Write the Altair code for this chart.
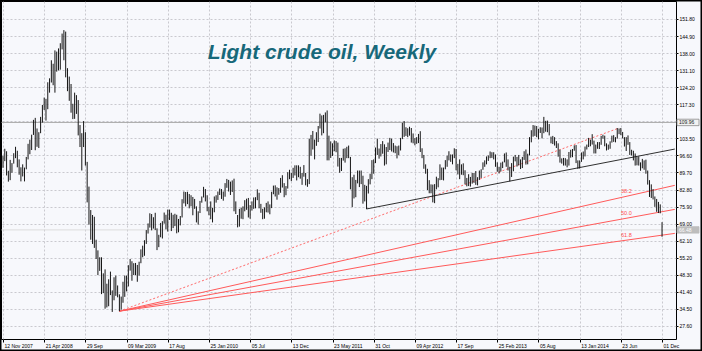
import altair as alt
import pandas as pd

# ---------------- data ----------------
first_week = "2007-11-12"

high_2007 = [96.5, 99.3, 98.3, 90.4, 94.8, 93.5, 97.5, 100.1]
low_2007 = [91.6, 94.3, 88.5, 86.0, 86.6, 89.6, 93.3, 95.5]

high_2008 = [98.5, 95.0, 91.8, 93.0, 91.7, 96.0, 101.3, 103.0, 105.0, 111.0, 111.8, 107.5, 106.0,
             112.2, 117.0, 120.0, 119.5, 126.2, 127.8, 135.1, 133.7, 139.1, 138.6, 139.9, 142.0, 145.9,
             147.3, 146.7, 131.9, 128.5, 125.5, 117.5, 122.0, 121.0, 119.0, 108.9, 105.6, 110.5, 106.0,
             94.0, 84.0, 74.5, 72.5, 71.8, 62.5, 58.2, 55.4, 55.4, 48.9, 50.5, 44.7, 46.5]
low_2008 = [91.8, 88.8, 86.1, 88.1, 86.1, 91.0, 95.0, 97.1, 98.8, 104.9, 98.7, 100.1, 99.6,
            105.6, 109.9, 115.0, 110.7, 115.3, 122.0, 126.1, 125.0, 122.0, 130.5, 131.0, 131.3, 139.5,
            135.1, 128.2, 122.6, 118.7, 113.9, 111.3, 111.4, 113.4, 104.7, 100.0, 90.5, 100.0, 92.5,
            77.6, 68.6, 62.5, 60.8, 59.2, 54.7, 48.2, 49.9, 40.5, 40.9, 34.6, 35.1, 35.6]

high_2009 = [49.6, 42.0, 47.3, 48.0, 44.0, 40.4, 39.5, 45.5, 48.0, 48.0, 52.2, 54.7, 53.8,
             53.0, 53.1, 52.3, 53.6, 58.6, 60.1, 62.3, 66.4, 69.1, 73.2, 72.9, 71.6, 73.4,
             67.1, 64.5, 69.3, 70.0, 73.5, 72.6, 74.7, 74.7, 73.4, 72.6, 73.0, 72.6, 70.9,
             72.1, 78.9, 82.0, 81.8, 81.9, 81.0, 80.5, 79.8, 79.0, 76.0, 74.0, 78.2, 80.0]
low_2009 = [40.1, 33.3, 38.0, 39.8, 39.2, 33.6, 34.2, 37.0, 39.4, 41.6, 43.6, 50.0, 45.9,
            48.2, 48.2, 45.5, 48.0, 53.0, 55.4, 56.0, 60.8, 65.0, 67.4, 66.3, 67.0, 66.4,
            58.3, 59.5, 63.5, 63.0, 69.0, 66.7, 65.8, 70.5, 66.0, 67.2, 68.0, 65.1, 65.5,
            68.3, 71.5, 77.2, 76.0, 76.9, 75.2, 76.0, 72.4, 75.0, 69.5, 68.6, 73.3, 77.5]

high_2010 = [83.9, 83.0, 80.5, 75.8, 78.0, 75.4, 80.0, 80.5, 82.0, 83.2, 83.0, 82.0, 85.4,
             87.1, 86.7, 86.0, 86.5, 87.2, 78.0, 72.5, 75.0, 75.5, 76.0, 78.5, 79.1, 79.4,
             76.5, 78.0, 79.6, 79.7, 82.9, 81.5, 77.0, 75.0, 75.6, 77.4, 78.0, 76.8, 81.9,
             84.4, 84.5, 83.7, 83.4, 87.5, 88.6, 85.4, 84.2, 89.8, 90.8, 89.5, 91.6, 92.6]
low_2010 = [79.6, 78.0, 74.0, 72.4, 70.8, 69.5, 73.6, 77.5, 78.6, 80.6, 79.0, 78.3, 79.9,
            83.5, 82.0, 80.6, 81.8, 74.0, 72.9, 67.5, 67.8, 71.0, 70.8, 74.0, 74.6, 71.5,
            71.0, 74.3, 75.0, 75.2, 78.5, 75.2, 73.4, 70.8, 71.0, 73.6, 73.5, 72.8, 75.3,
            80.9, 80.0, 78.7, 80.7, 81.5, 83.6, 79.7, 80.5, 83.2, 87.0, 86.2, 87.5, 88.5]

high_2011 = [92.6, 92.6, 92.0, 89.5, 92.7, 89.5, 87.0, 103.4, 104.9, 106.5, 103.0, 106.0, 108.5,
             113.5, 112.8, 113.0, 114.0, 114.8, 104.6, 102.3, 101.5, 102.7, 102.4, 101.8, 95.6, 95.6,
             99.3, 99.5, 100.1, 100.6, 96.0, 87.8, 88.8, 86.7, 90.5, 90.5, 90.5, 88.4, 84.7,
             84.3, 87.0, 89.2, 94.7, 95.0, 99.8, 103.4, 99.4, 101.2, 102.4, 101.1, 100.0, 101.8]
low_2011 = [86.5, 87.8, 87.2, 84.7, 88.0, 84.5, 83.9, 85.0, 96.5, 99.0, 95.0, 100.5, 102.0,
            107.5, 104.7, 105.6, 110.0, 94.6, 94.6, 95.6, 96.4, 98.3, 97.9, 92.1, 89.6, 90.3,
            94.5, 93.7, 95.5, 95.5, 82.9, 75.7, 79.2, 79.7, 85.3, 83.8, 85.0, 77.1, 78.0,
            74.9, 81.2, 84.9, 87.0, 89.2, 93.5, 96.8, 95.3, 96.2, 97.3, 92.5, 93.0, 98.0]

high_2012 = [103.7, 103.4, 101.6, 100.6, 100.3, 100.6, 103.7, 109.8, 110.5, 108.0, 107.6, 108.2, 107.7,
             105.5, 103.6, 104.0, 105.3, 106.4, 99.5, 96.8, 93.0, 91.2, 86.6, 84.9, 84.8, 85.0,
             88.0, 87.4, 93.0, 91.7, 91.7, 94.7, 96.5, 98.3, 97.0, 97.0, 99.5, 99.2, 93.2,
             95.0, 93.0, 93.4, 90.6, 87.5, 89.0, 87.9, 89.5, 89.5, 90.3, 87.8, 90.5, 91.0, 93.8]
low_2012 = [98.8, 98.2, 97.8, 97.5, 95.4, 96.7, 98.6, 103.2, 104.1, 104.5, 104.0, 104.6, 101.8,
            101.5, 100.7, 101.3, 101.6, 98.0, 95.5, 91.2, 89.2, 82.6, 81.3, 81.3, 77.6, 77.3,
            82.9, 83.7, 86.6, 86.7, 86.5, 91.0, 92.0, 94.6, 94.0, 93.0, 95.5, 90.6, 88.9,
            87.0, 88.8, 88.6, 84.9, 84.1, 84.2, 84.0, 85.2, 85.5, 84.7, 84.5, 86.7, 87.5, 90.8]

high_2013 = [94.6, 96.2, 96.6, 98.2, 97.9, 97.9, 97.0, 93.8, 92.0, 93.7, 94.1, 97.4, 97.8,
             95.0, 92.0, 93.5, 96.1, 96.8, 96.0, 96.8, 95.0, 96.0, 98.3, 99.0, 97.3, 104.0,
             106.8, 108.9, 108.7, 108.5, 107.4, 108.0, 107.9, 112.2, 110.6, 110.7, 109.3, 104.2, 104.5,
             104.0, 102.4, 101.5, 98.9, 95.4, 95.6, 95.5, 95.0, 98.0, 98.9, 99.2, 100.7, 100.8]
low_2013 = [92.0, 93.0, 94.4, 95.5, 95.6, 95.0, 92.0, 90.0, 89.3, 90.1, 91.5, 93.8, 92.0,
            90.5, 86.1, 87.9, 90.2, 94.2, 92.1, 92.6, 91.1, 91.5, 94.8, 92.9, 93.0, 96.6,
            101.9, 104.2, 104.5, 104.0, 103.1, 105.7, 103.5, 105.6, 106.2, 106.0, 104.7, 101.5, 101.2,
            100.6, 99.6, 96.1, 93.7, 93.3, 92.5, 92.5, 91.8, 92.5, 95.7, 95.9, 98.5, 93.5]

high_2014 = [94.6, 94.6, 97.8, 98.2, 100.2, 101.0, 103.7, 103.0, 105.2, 102.6, 101.0, 102.0, 102.0,
             104.5, 105.0, 104.6, 101.5, 101.0, 102.3, 104.6, 104.8, 104.0, 107.7, 107.5, 107.7, 106.1,
             104.0, 104.0, 104.7, 102.0, 98.9, 98.5, 97.4, 96.0, 96.2, 93.8, 95.2, 94.6, 94.9,
             90.5, 86.6, 84.9, 83.0, 80.0, 79.0, 77.8, 76.8, 69.6]
low_2014 = [91.2, 91.3, 94.0, 95.0, 96.2, 99.0, 100.0, 100.3, 101.0, 97.4, 97.4, 99.3, 99.2,
            100.9, 103.4, 100.3, 98.6, 98.9, 99.3, 101.8, 102.1, 101.9, 103.4, 105.2, 104.8, 103.5,
            100.2, 98.4, 100.9, 96.8, 96.6, 94.6, 92.5, 92.6, 92.5, 90.4, 91.4, 90.8, 89.2,
            84.8, 79.8, 79.4, 78.8, 75.8, 73.8, 73.3, 73.2, 63.7]

high = high_2007 + high_2008 + high_2009 + high_2010 + high_2011 + high_2012 + high_2013 + high_2014
low = low_2007 + low_2008 + low_2009 + low_2010 + low_2011 + low_2012 + low_2013 + low_2014

last_price = 66.48
hline_price = 109.96

# x-axis tick dates and their labels
tick_dates = ["2007-11-12", "2008-04-21", "2008-09-29", "2009-03-09", "2009-08-17", "2010-01-25",
              "2010-07-05", "2010-12-13", "2011-05-23", "2011-10-31", "2012-04-09", "2012-09-17",
              "2013-02-25", "2013-08-05", "2014-01-13", "2014-06-23", "2014-12-01"]
tick_labels = ["12 Nov 2007", "21 Apr 2008", "29 Sep", "09 Mar 2009", "17 Aug", "25 Jan 2010",
               "05 Jul", "13 Dec", "23 May 2011", "31 Oct", "09 Apr 2012", "17 Sep",
               "25 Feb 2013", "05 Aug", "13 Jan 2014", "23 Jun", "01 Dec"]
y_ticks = [27.60, 34.50, 41.40, 48.30, 55.20, 62.10, 69.00, 75.90, 82.80, 89.70, 96.60,
           103.50, 110.40, 117.30, 124.20, 131.10, 138.00, 144.90, 151.80]

# Fibonacci fan: low point -> high point
fan_origin_date, fan_origin_price = "2009-02-09", 33.6
fan_peak_date, fan_peak_price = "2014-06-16", 107.7
fan_levels = [38.2, 50.0, 61.8]
ray_end_date = "2015-01-20"

# black support trend line anchors
trend_dates = ["2011-10-03", "2012-06-25"]
trend_prices = [74.95, 80.3]

title_text = "Light crude oil, Weekly"

# ---------------- build tables ----------------
assert len(high) == len(low)
weeks = pd.date_range(first_week, periods=len(high), freq="7D")
bars = pd.DataFrame({"week": weeks.strftime("%Y-%m-%d"), "high": high, "low": low})


def days(d):
    return (pd.Timestamp(d) - pd.Timestamp("2000-01-01")).days


def ms(ts):
    return int((ts - pd.Timestamp("1970-01-01")) / pd.Timedelta(milliseconds=1))


fan_rows = []
label_rows = []
for f in fan_levels:
    lvl = fan_peak_price - f / 100.0 * (fan_peak_price - fan_origin_price)
    slope = (lvl - fan_origin_price) / (days(fan_peak_date) - days(fan_origin_date))
    end_p = fan_origin_price + slope * (days(ray_end_date) - days(fan_origin_date))
    fan_rows += [{"week": fan_origin_date, "price": fan_origin_price, "lvl": str(f)},
                 {"week": ray_end_date, "price": end_p, "lvl": str(f)}]
    label_rows.append({"week": fan_peak_date, "price": lvl, "txt": f"{f:.1f}"})
fan_df = pd.DataFrame(fan_rows)
fan_lbl = pd.DataFrame(label_rows)

diag_df = pd.DataFrame({"week": [fan_origin_date, fan_peak_date],
                        "price": [fan_origin_price, fan_peak_price]})

t_slope = (trend_prices[1] - trend_prices[0]) / (days(trend_dates[1]) - days(trend_dates[0]))
t_end = trend_prices[0] + t_slope * (days(ray_end_date) - days(trend_dates[0]))
trend_df = pd.DataFrame({"week": [trend_dates[0], ray_end_date], "price": [trend_prices[0], t_end]})

hl_df = pd.DataFrame({"price": [hline_price, last_price],
                      "lo": [hline_price - 1.3, last_price - 1.3],
                      "hi": [hline_price + 1.3, last_price + 1.3],
                      "txt": [f"{hline_price:.2f}", f"{last_price:.2f}"],
                      "kind": ["line", "bid"]})

# ---------------- scales & axes ----------------
base = pd.Timestamp(first_week)
dom0 = base - pd.Timedelta(days=1.117 * 7)
dom1 = base + pd.Timedelta(days=375.8 * 7)
xscale = alt.Scale(type="utc", domain=[ms(dom0), ms(dom1)])
yscale = alt.Scale(domain=[22.34, 159.08], nice=False, zero=False)

FONT = "Liberation Sans"
label_expr = ("[" + ",".join(f"'{l}'" for l in tick_labels) + "][indexof(["
              + ",".join(f"'{d}'" for d in tick_dates) + "], utcFormat(datum.value, '%Y-%m-%d'))]")

xaxis = alt.Axis(values=[ms(pd.Timestamp(d)) for d in tick_dates], labelExpr=label_expr,
                 tickCount=100,
                 orient="bottom", labelAlign="left", labelBaseline="top", labelPadding=1,
                 labelOffset=1, tickSize=3, tickColor="#000000", domain=False, grid=True,
                 gridColor="#c9c9cf", gridDash=[2, 2], gridWidth=1, labelFontSize=5,
                 labelFont=FONT, labelColor="#000000", labelOverlap=False, labelFlush=False,
                 labelBound=False, title=None)
yaxis = alt.Axis(values=y_ticks, format=".2f", orient="right", labelAlign="left", tickCount=100,
                 labelBaseline="middle", labelPadding=1, tickSize=2, tickColor="#000000",
                 domain=False, grid=True, gridColor="#c9c9cf", gridDash=[2, 2], gridWidth=1,
                 labelFontSize=5, labelFont=FONT, labelColor="#000000", labelOverlap=False,
                 labelFlush=False, labelBound=False, title=None)

# ---------------- layers ----------------
bar_layer = alt.Chart(bars).mark_rule(color="#151515", strokeWidth=1, clip=True).encode(
    x=alt.X("week:T", scale=xscale, axis=xaxis),
    y=alt.Y("low:Q", scale=yscale, axis=yaxis),
    y2="high:Q",
)

hlines = alt.Chart(hl_df).mark_rule(strokeWidth=1, clip=True).encode(
    y=alt.Y("price:Q", scale=yscale),
    color=alt.Color("kind:N", scale=alt.Scale(domain=["line", "bid"], range=["#a8a8a8", "#dcdcdc"]),
                    legend=None),
)

fan_layer = alt.Chart(fan_df).mark_line(color="#ff5a5a", strokeWidth=1, clip=True).encode(
    x=alt.X("week:T", scale=xscale), y=alt.Y("price:Q", scale=yscale), detail="lvl:N")

diag_layer = alt.Chart(diag_df).mark_line(color="#ff6a6a", strokeWidth=1, strokeDash=[2, 2],
                                          clip=True).encode(
    x=alt.X("week:T", scale=xscale), y=alt.Y("price:Q", scale=yscale))

trend_layer = alt.Chart(trend_df).mark_line(color="#303030", strokeWidth=1, clip=True).encode(
    x=alt.X("week:T", scale=xscale), y=alt.Y("price:Q", scale=yscale))

fan_text = alt.Chart(fan_lbl).mark_text(color="#ff4d4d", fontSize=5.5, font=FONT, align="left",
                                        baseline="middle", dx=2, dy=-6.5).encode(
    x=alt.X("week:T", scale=xscale), y=alt.Y("price:Q", scale=yscale), text="txt:N")

box_layer = alt.Chart(hl_df).mark_rect(strokeWidth=0.8).encode(
    x=alt.value(676), x2=alt.value(698),
    y=alt.Y("lo:Q", scale=yscale), y2="hi:Q",
    fill=alt.Color("kind:N", scale=alt.Scale(domain=["line", "bid"], range=["#f2f2f2", "#bdbdbd"]),
                   legend=None),
    stroke=alt.Stroke("kind:N", scale=alt.Scale(domain=["line", "bid"], range=["#8a8a8a", "#bdbdbd"]),
                      legend=None),
)
box_text = alt.Chart(hl_df).mark_text(fontSize=5, font=FONT, align="left", baseline="middle").encode(
    x=alt.value(678), y=alt.Y("price:Q", scale=yscale), text="txt:N",
    color=alt.Color("kind:N", scale=alt.Scale(domain=["line", "bid"], range=["#202020", "#ffffff"]),
                    legend=None),
)

one = pd.DataFrame({"t": [title_text]})
title_layer = alt.Chart(one).mark_text(fontSize=21, font=FONT, fontWeight="bold", fontStyle="italic",
                                       color="#17687a", align="center", baseline="alphabetic").encode(
    x=alt.value(321), y=alt.value(58), text="t:N")

frame = alt.Chart(one).mark_rect(fillOpacity=0, stroke="#000000", strokeWidth=1.5).encode(
    x=alt.value(-0.25), x2=alt.value(700.25), y=alt.value(-0.25), y2=alt.value(349.25))

chart = alt.layer(hlines, fan_layer, diag_layer, trend_layer, bar_layer, fan_text,
                  box_layer, box_text, title_layer, frame).resolve_scale(color="independent").properties(
    width=675, height=338,
    autosize=alt.AutoSizeParams(type="none"),
    padding={"left": 1, "top": 1, "right": 26, "bottom": 12},
    background="#f7f8fc",
).configure_view(fill="#f7f8fc", stroke="#000000", strokeWidth=1)

chart.save("out.html", embed_options={"renderer": "svg", "actions": False})
